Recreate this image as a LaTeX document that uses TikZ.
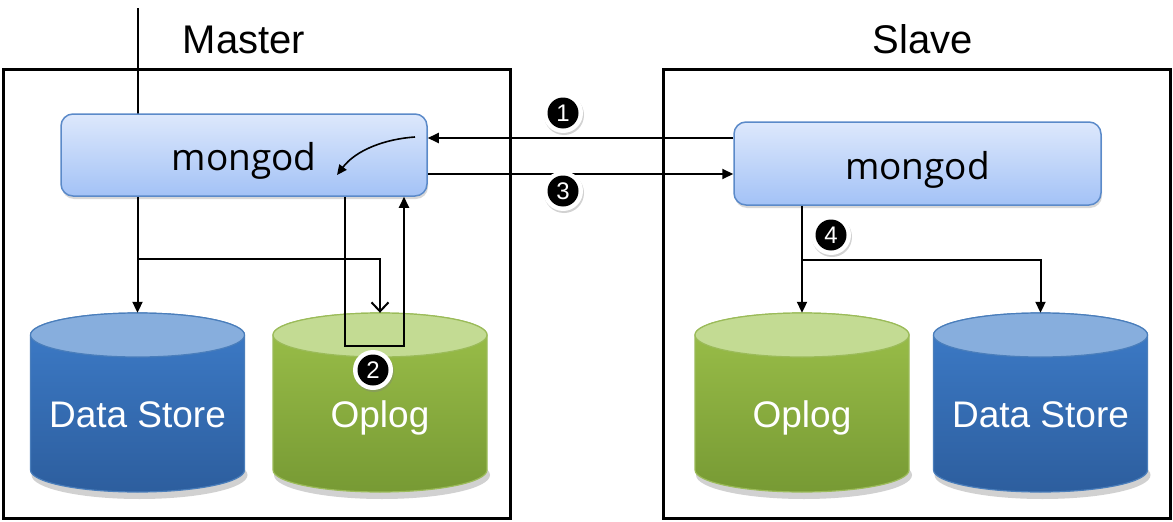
\documentclass[tikz,border=0pt]{standalone}
\usepackage{fontspec}
\setmainfont{Liberation Sans}
\newfontfamily\mfont{Open Sans}
\usetikzlibrary{arrows.meta,shadows,calc}
\definecolor{mtop}{HTML}{DDE8FC}
\definecolor{mbot}{HTML}{A3C2F6}
\definecolor{mborder}{HTML}{5B8AC9}
\definecolor{btop}{HTML}{3D7CC9}
\definecolor{bbot}{HTML}{2D5E9E}
\definecolor{blid}{HTML}{87AEDD}
\definecolor{bborder}{HTML}{4A7EBB}
\definecolor{gtop}{HTML}{9CC04A}
\definecolor{gbot}{HTML}{779A34}
\definecolor{glid}{HTML}{C3DB93}
\definecolor{gborder}{HTML}{9BBB59}
\newcommand{\drawcyl}[7]{%
  \fill[black,opacity=.18] (#2+2,475) ellipse[x radius=108pt,y radius=24pt];
  \shade[top color=#3,bottom color=#4,draw=#6,line width=1.2pt]
    (#2-107,335) -- (#2-107,470) arc[start angle=180,end angle=360,x radius=107pt,y radius=22pt]
    -- (#2+107,335) arc[start angle=0,end angle=180,x radius=107pt,y radius=22pt] -- cycle;
  \fill[#5,draw=#6,line width=1.2pt] (#2,335) ellipse[x radius=107pt,y radius=22pt];
  \node[inner sep=0,minimum width=214pt,minimum height=179pt] (#1) at (#2,402.5) {};
  \node[cyltext] (#1t) at (#2,427) {#7};
}
\begin{document}
\begin{tikzpicture}[x=1pt,y=-1pt,
  frame/.style={draw=black,line width=3pt,inner sep=0},
  mbox/.style={rounded corners=12pt,top color=mtop,bottom color=mbot,draw=mborder,line width=1.5pt,inner sep=0,
    drop shadow={opacity=.3,shadow xshift=1pt,shadow yshift=-3pt}},
  mtext/.style={anchor=base,font=\mfont\fontsize{37}{40}\selectfont,inner sep=0},
  cyltext/.style={anchor=base,text=white,font=\fontsize{37}{40}\selectfont,inner sep=0},
  title/.style={anchor=base,font=\fontsize{40}{44}\selectfont,inner sep=0},
  conn/.style={draw=black,line width=2pt},
  tri/.tip={Triangle[length=11pt,width=10pt]},
  barb/.tip={Straight Barb[length=9pt,width=17pt,line width=2pt]},
  numc/.style={circle,fill=white,minimum size=40pt,inner sep=0,
    drop shadow={opacity=.35,shadow xshift=1pt,shadow yshift=-2pt}},
  numin/.style={circle,fill=black,minimum size=31pt,inner sep=0,text=white,font=\fontsize{24}{24}\selectfont}]
\useasboundingbox (0,0) rectangle (1173,522);
\fill[white] (0,0) rectangle (1173,522);
% frames
\node[frame,minimum width=507pt,minimum height=449pt] (fM) at (256.5,293.5) {};
\node[frame,minimum width=507pt,minimum height=449pt] (fS) at (916.5,293.5) {};
\node[title] (lM) at (244,53) {Master};
\node[title] (lS) at (923,53) {Slave};
% cylinders
\drawcyl{dsL}{137.5}{btop}{bbot}{blid}{bborder}{Data Store}
\drawcyl{opL}{380}{gtop}{gbot}{glid}{gborder}{Oplog}
\drawcyl{opR}{802}{gtop}{gbot}{glid}{gborder}{Oplog}
\drawcyl{dsR}{1040.5}{btop}{bbot}{blid}{bborder}{Data Store}
% mongod boxes
\coordinate (topin) at (137.5,8);
\draw[conn] (topin) -- (137.5,120);
\node[mbox,minimum width=366pt,minimum height=82pt] (mL) at (244,155) {};
\node[mtext] (mLt) at (244,170) {mongod};
\node[mbox,minimum width=367pt,minimum height=83pt] (mR) at (917.5,163.5) {};
\node[mtext] (mRt) at (917.5,179) {mongod};
% master connectors
\draw[conn,-{tri}] (dsL.north |- mL.south) -- (dsL.north);
\draw[conn,-{barb}] (dsL.north |- 0,259) -| (opL.north);
\draw[conn,-{tri}] (mL.south -| 345,0) -- (345,346) -- (404,346) -- (mL.south -| 404,0);
\coordinate (cs) at (415,137);
\coordinate (ce) at (337,175);
\draw[line width=1.6pt,-{Triangle[length=10pt,width=9pt]}] (cs) .. controls (385,139) and (356,150) .. (ce);
% between
\draw[conn,-{tri}] (mR.west |- 0,138) -- (mL.east |- 0,138);
\draw[conn,-{tri}] (mL.east |- 0,174) -- (mR.west |- 0,174);
% slave connectors
\draw[conn,-{tri}] (opR.north |- mR.south) -- (opR.north);
\draw[conn,-{tri}] (opR.north |- 0,260) -| (dsR.north);
% numbered markers
\node[numc] (c1) at (563,113) {};
\node[numin] (c1n) at (c1) {1};
\node[numc] (c2) at (373,370) {};
\node[numin] (c2n) at (c2) {2};
\node[numc] (c3) at (563,191) {};
\node[numin] (c3n) at (c3) {3};
\node[numc] (c4) at (831,235) {};
\node[numin] (c4n) at (c4) {4};
\end{tikzpicture}
\end{document}
